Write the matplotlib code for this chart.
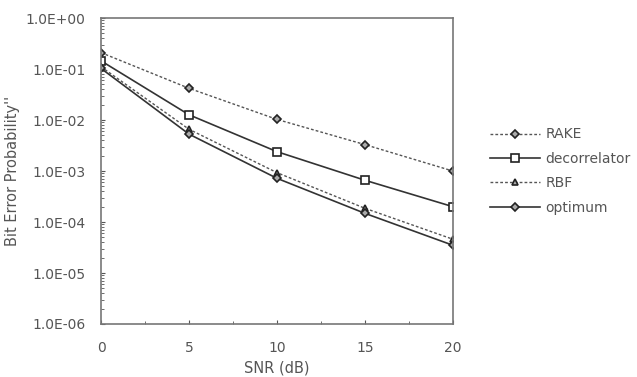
import matplotlib
matplotlib.use("Agg")
import matplotlib.pyplot as plt
from matplotlib.ticker import FixedLocator, MultipleLocator, LogLocator, NullFormatter

snr = [0, 5, 10, 15, 20]
rake = [0.21, 0.042, 0.0103, 0.0033, 0.001]
decorr = [0.145, 0.0127, 0.0024, 0.00066, 0.0002]
rbf = [0.111, 0.0066, 0.00093, 0.000186, 4.6e-5]
optimum = [0.103, 0.0053, 0.00072, 0.000148, 3.5e-5]
names = ["RAKE", "decorrelator", "RBF", "optimum"]
ytick_vals = [1e0, 1e-1, 1e-2, 1e-3, 1e-4, 1e-5, 1e-6]
ytick_labels = ["1.0E+00", "1.0E-01", "1.0E-02", "1.0E-03", "1.0E-04", "1.0E-05", "1.0E-06"]

plt.rcParams['font.family'] = ['DejaVu Sans']
fig = plt.figure(figsize=(6.37, 3.77), dpi=100)
ax = fig.add_axes([0.1586, 0.1406, 0.5524, 0.8114])

lc = "#333333"
ax.plot(snr, rake, linestyle=(0, (2, 1.5)), color="#555555", lw=1.0,
        marker="D", ms=4, mfc="#aaaaaa", mec="#222222", mew=1.2, label=names[0])
ax.plot(snr, decorr, linestyle="-", color=lc, lw=1.2,
        marker="s", ms=6, mfc="white", mec="#222222", mew=1.2, label=names[1])
ax.plot(snr, rbf, linestyle=(0, (2, 1.5)), color="#555555", lw=1.0,
        marker="^", ms=5, mfc="#aaaaaa", mec="#222222", mew=1.2, label=names[2])
ax.plot(snr, optimum, linestyle="-", color=lc, lw=1.2,
        marker="D", ms=4, mfc="#aaaaaa", mec="#222222", mew=1.2, label=names[3])

ax.set_yscale("log")
ax.set_xlim(0, 20)
ax.set_ylim(1e-6, 1e0)
ax.yaxis.set_major_locator(FixedLocator(ytick_vals))
ax.set_yticklabels(ytick_labels)
ax.yaxis.set_minor_locator(LogLocator(base=10, subs=range(2, 10), numticks=20))
ax.yaxis.set_minor_formatter(NullFormatter())
ax.xaxis.set_major_locator(MultipleLocator(5))
ax.xaxis.set_minor_locator(MultipleLocator(2.5))

for s in ax.spines.values():
    s.set_color("#777777")
    s.set_linewidth(1.2)
ax.tick_params(which="both", direction="in", top=False, right=False, colors="#555555",
               labelsize=10, labelcolor="#555555")
ax.tick_params(which="major", length=3)
ax.tick_params(which="minor", length=2)
ax.tick_params(axis="x", pad=12)
ax.tick_params(axis="y", pad=11)

ax.set_xlabel("SNR (dB)", fontsize=10.5, color="#555555", labelpad=4)
ax.set_ylabel("Bit Error Probability''", fontsize=10.5, color="#555555", labelpad=4)

leg = ax.legend(loc="center left", bbox_to_anchor=(1.09, 0.5), frameon=False,
                fontsize=10, handlelength=3.6, handletextpad=0.4, labelspacing=0.75,
                borderaxespad=0)
for t in leg.get_texts():
    t.set_color("#555555")

fig.savefig("out.png", dpi=100)
